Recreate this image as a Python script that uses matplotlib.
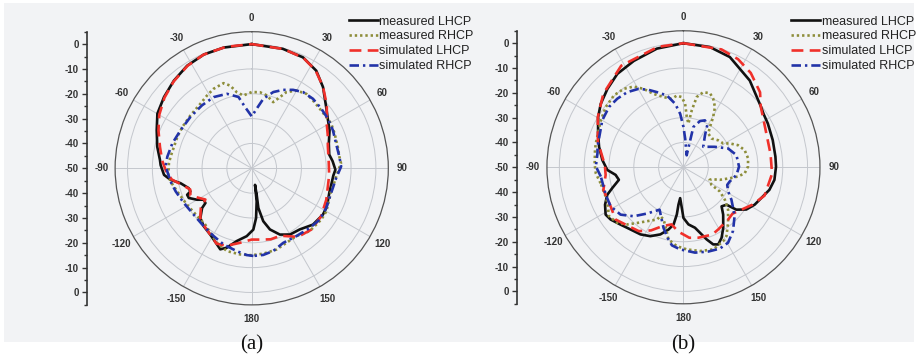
import numpy as np
import matplotlib
matplotlib.use("Agg")
import matplotlib.pyplot as plt
from matplotlib.lines import Line2D
from matplotlib.patches import Rectangle

plt.rcParams['font.family'] = ['Liberation Sans', 'DejaVu Sans']

# ---- traced data: angle (deg, clockwise from top) and normalized gain (dB), in drawing order ----
# panel (a)
a_mlhcp_ang = [0, 14.6, 24.8, 33.5, 41.3, 50.6, 57.8, 63.9, 72.2, 80, 85, 91, 95, 101.8, 106.6,
               113.5, 118, 123.1, 132.6, 141.9, 150, 157, 163.4, 167.7, 170.5, 169.4, 168.7, 171.5,
               175, 178.5, -175.8, -168.4, -162.6, -158.8, -155.5, -148, -140.4, -134.1, -128.7,
               -126.9, -123.2, -119.9, -115.3, -112.3, -110.7, -107.5, -101.8, -98.1, -94.3, -88,
               -84.8, -77.2, -68.2, -59.9, -50.9, -41.6, -32.2, -22.8, -13]
a_mlhcp_db = [0, -0.3, -0.8, -2.9, -6.5, -11.2, -13.7, -15.1, -17.4, -18.3, -17.3, -16.3, -17, -17.3,
              -17.3, -16.6, -16, -15.8, -16.5, -18.7, -19.2, -21, -24.3, -28.2, -33.8, -39.1, -43.2,
              -36.5, -29.9, -25.3, -22.6, -20.1, -16.5, -15, -16.3, -18.5, -19.7, -21.2, -24.4,
              -26.7, -26.9, -24.6, -22, -21.9, -23.6, -23.4, -20.7, -17, -14.6, -13.3, -12.9, -11,
              -8.8, -6.1, -4.5, -2.8, -1.2, -0.3, -0.1]

a_mrhcp_ang = [180, -172.3, -163.3, -155, -147.3, -140.5, -133.2, -119.4, -107.3, -99.3, -94.5,
               -86.6, -81.9, -67.1, -59.2, -49.1, -38.5, -31.5, -25.6, -18.3, -14.6, -11.1, -6.5,
               0, 6.2, 11.6, 18, 21.6, 24.5, 29.9, 36.3, 42.1, 50.2, 55.4, 60.6, 67.2, 76, 82.5,
               86.8, 92.2, 99.1, 106.3, 120, 126.4, 137.4, 146.6, 155, 163, 172.3]
a_mrhcp_db = [-15, -15, -15.2, -16.9, -19.1, -20.6, -20.8, -20.1, -18.6, -16.9, -16.3, -16.6, -17,
              -17.5, -17.5, -17.4, -16.8, -15.6, -14.5, -13.9, -15.6, -18.8, -20.5, -19.3, -19.2,
              -20, -22, -19.2, -16.3, -13.9, -12.8, -13.2, -13.6, -13.6, -13.3, -13.8, -14.3,
              -14.4, -14, -15.3, -16.2, -16.7, -15.3, -15.2, -15.6, -17.3, -16.9, -15.8, -15.3]

a_slhcp_ang = [0, 15, 25, 33, 41, 50, 59, 66, 74, 86, 95, 103, 113, 125, 136, 146, 157, 165, 172,
               180, -171, -162, -155, -148, -140, -134, -128, -124, -119, -114, -109, -104, -98,
               -92, -85, -77, -68, -60, -51, -42, -32, -23, -12]
a_slhcp_db = [0, -0.3, -0.9, -2.9, -6.3, -10.5, -14.8, -16.5, -18.1, -18.9, -18.7, -18.5, -17.4,
              -16, -15.6, -16.7, -20.5, -20.4, -21, -21.3, -19.6, -17.2, -16.5, -18.5, -20, -21.2,
              -24, -27.5, -25.5, -23, -23.8, -21.5, -17.5, -15.5, -13.8, -12.1, -9.5, -7, -4.8,
              -3, -1.3, -0.3, 0]

a_srhcp_ang = [178.9, -176.7, -169.8, -159.7, -150.7, -140.4, -128.7, -117.1, -106.9, -99.3,
               -92.2, -88.9, -82.2, -72.6, -61.9, -50, -38.3, -28.1, -18.4, -10.5, -6.2, 0, 4.8,
               9.5, 15.8, 21.8, 27.8, 34, 41.4, 49.4, 56.9, 64.9, 73.6, 82.5, 88.9, 96.7, 103.8,
               111, 118, 127.1, 135.8, 146.6, 157.1, 165.4, 172.4]
a_srhcp_db = [-14.7, -15, -16.1, -17.3, -18.7, -19.7, -20.1, -19.3, -18, -16.9, -16, -15.3, -15.7,
              -16.5, -17.5, -17.8, -17.7, -17.5, -18.4, -20.8, -25.2, -29.1, -25.9, -21.6, -18.1,
              -16, -14.3, -13, -12.7, -13.1, -13.4, -13.9, -14.6, -14.4, -14, -15.8, -16.4, -16.5,
              -16, -15.7, -16.5, -17.3, -17.4, -15.6, -14.8]

# panel (b)
b_mlhcp_ang = [0, 12.4, 22.8, 37.4, 52.2, 56.2, 62.6, 73.1, 83.4, 89.6, 97.9, 104.7, 110.1, 117.7,
               123.9, 128.7, 131, 135.7, 140, 146.7, 151.6, 155.7, 158.9, 162.2, 169.2, 175, 180,
               -177.7, -173.9, -172.4, -172, -170.2, -166.5, -161, -154.3, -147.4, -139.6, -132.3,
               -125.7, -121.3, -115.5, -109.8, -106.3, -101, -96.4, -92, -84.9, -76.3, -68.4,
               -59.5, -52.5, -44.1, -35.3, -25, -12.6]
b_mlhcp_db = [0, -0.4, -1.8, -6, -10.4, -11.2, -11.7, -12.4, -12.7, -12.7, -13, -14.2, -15.9,
              -17.6, -19.5, -22.7, -27, -28, -25.1, -20.8, -17.7, -15.9, -16.7, -19.5, -25.2,
              -26.9, -29.6, -33.6, -37.5, -34.8, -30.8, -26.6, -24.2, -21.4, -19.2, -17.9, -17.1,
              -15.7, -13.9, -13.3, -15, -17.4, -20.1, -23.5, -22.5, -19.3, -17.2, -15, -13, -10.1,
              -8, -6, -3.9, -2.7, -1]

b_mrhcp_ang = [-100.9, -93.9, -88, -79, -74.8, -60.4, -52.2, -44, -37.2, -31.6, -26.9, -22.1,
               -15.8, -9.6, -5.3, -1.4, 1.5, 3.8, 6.5, 8.3, 10.7, 14.8, 19.7, 23.5, 27.6, 30.6,
               33.3, 36.3, 44.3, 52, 59, 62.8, 67.9, 74.3, 82.1, 89.4, 95.6, 99.6, 103.3, 109, 113,
               115.7, 122, 123.6, 128.1, 133.5, 141.2, 148, 151.7, 160, 168.8, 177.7, -175.2,
               -168.3, -164.5, -159.2, -154.7, -153.1, -146, -140.2, -135.5, -130, -123.3, -115.2,
               -110.5]
b_mrhcp_db = [-16, -14.6, -14.2, -13.7, -13.4, -11.7, -10.4, -9.7, -10.3, -11.8, -14.6, -18.1,
              -20.6, -22, -21, -21.7, -24.4, -29.7, -32.3, -26.8, -21.2, -18.7, -18.3, -19.9,
              -22.6, -26.5, -30.5, -33.1, -33.8, -32.3, -31.3, -29, -26.3, -24.4, -23.7, -24,
              -25.2, -27.7, -30.8, -34.5, -37.7, -38.3, -36.7, -32.4, -28.8, -25.2, -21.3, -17.3,
              -16.2, -14.8, -15.6, -16.9, -18.1, -20.3, -24, -27.5, -28.2, -26.4, -23.8, -20.8,
              -17.7, -15.2, -14.1, -16.1, -16.5]

b_slhcp_ang = [0, 17.9, 26.8, 35.5, 45.6, 51.6, 65.3, 81.3, 94.2, 109.3, 118.5, 133.4, 139.5,
               150.8, 156.9, 168, 175.2, -175.4, -168.2, -160, -152.8, -145, -139.7, -127.6,
               -118.2, -105.7, -95.6, -88.3, -73.4, -59.6, -47.5, -31.5, -12]
b_slhcp_db = [0, -0.1, -1.2, -3.3, -6.8, -10.3, -13.6, -14.5, -14.2, -15.4, -18.4, -22.8, -22.3,
              -21.3, -20.5, -21, -21.5, -24, -26.5, -24.7, -21.4, -18.6, -18, -15.5, -16.7, -16.5,
              -18.5, -18.3, -14, -10, -6.2, -2, -0.4]

b_srhcp_ang = [-96.4, -89.4, -80.6, -76.6, -59.9, -51, -44, -36.8, -29.7, -24.2, -19.4, -13, -7.4,
               -3.5, 0, 3.5, 15, 13.8, 19.7, 24.6, 29.5, 33.8, 44, 56.9, 67.1, 77, 89.3, 98.2, 107,
               111.9, 118.4, 124, 129.4, 133.7, 142.1, 149.4, 155.9, 163.6, 172.3, -177.7, -171.6,
               -167.3, -161.8, -150.6, -141.8, -134.6, -127, -118.2, -109.5]
b_srhcp_db = [-16.5, -14.7, -14.9, -14.4, -12.2, -11.4, -11.6, -12.2, -13.6, -15.8, -17.9, -20.3,
              -24.2, -28.4, -33.7, -38.5, -45, -33.3, -30.2, -29.2, -30.5, -34.4, -38.5, -34.9,
              -30.5, -28.1, -27.6, -28.4, -30.5, -31, -29.5, -26.7, -24.1, -21.5, -17.5, -14.7,
              -14.1, -14.6, -15.3, -16.9, -18.2, -20.9, -24.3, -30.4, -26.3, -21.9, -18.3, -16.7,
              -16.8]

series_labels = ['measured LHCP', 'measured RHCP', 'simulated LHCP', 'simulated RHCP']
theta_ticks = [0, 30, 60, 90, 120, 150, 180, 210, 240, 270, 300, 330]
theta_labels = ['0', '30', '60', '90', '120', '150', '180', '-150', '-120', '-90', '-60', '-30']
ring_levels = [-40, -30, -20, -10, 0]
scale_labels = ['0', '-10', '-20', '-30', '-40', '-50', '-40', '-30', '-20', '-10', '0']
panel_tags = ['(a)', '(b)']

styles = [
    dict(color='#111111', lw=1.9, ls='-'),
    dict(color='#8d8d3a', lw=1.9, ls=(0, (0.9, 1.1))),
    dict(color='#f0302a', lw=1.9, ls=(0, (4.5, 2.4))),
    dict(color='#2233a8', lw=1.9, ls=(0, (3.6, 1.5, 0.9, 1.5))),
]

fig = plt.figure(figsize=(9.18, 3.63), dpi=100)
fig.patches.append(Rectangle((0.004, 0.058), 0.992, 0.933, transform=fig.transFigure,
                             facecolor='#f2f3f5', edgecolor='none', zorder=-10))


def draw_panel(rect, scale_x, data, legend_x, tag_x, tag):
    ax = fig.add_axes(rect, projection='polar')
    ax.set_facecolor('none')
    ax.set_theta_zero_location('N')
    ax.set_theta_direction(-1)
    for (ang, db), st in zip(data, styles):
        th = np.unwrap(np.deg2rad(np.r_[ang, ang[0]]))
        ax.plot(th, np.r_[db, db[0]], zorder=3, **st)
    ax.set_ylim(-50, 5)
    ax.set_yticks(ring_levels)
    ax.set_yticklabels([])
    ax.set_thetagrids(theta_ticks, theta_labels, fontsize=7, fontweight='bold', color='#333333')
    ax.set_xticks(np.deg2rad(np.arange(15, 360, 30)), minor=True)
    ax.tick_params(axis='x', which='major', length=0, pad=3)
    ax.tick_params(axis='x', which='minor', direction='in', length=4, width=0.8, color='#555555')
    ax.grid(True, color='#c4c7cd', lw=0.7)
    ax.spines['polar'].set_color('#555555')
    ax.spines['polar'].set_linewidth(0.9)

    # linear dB scale at the left, mirrored about the centre
    sc = fig.add_axes([scale_x, rect[1], 0.0001, rect[3]])
    sc.set_facecolor('none')
    sc.set_ylim(-55, 55)
    sc.set_yticks(np.linspace(50, -50, len(scale_labels)))
    sc.set_yticklabels(scale_labels, fontsize=7, fontweight='bold', color='#333333')
    sc.set_yticks(np.arange(-55, 56, 10), minor=True)
    sc.set_xticks([])
    for s in ['top', 'right', 'bottom']:
        sc.spines[s].set_visible(False)
    sc.spines['left'].set_linewidth(1.2)
    sc.spines['left'].set_color('#333333')
    sc.tick_params(axis='y', which='major', length=3.5, width=1, pad=2.5, color='#333333')
    sc.tick_params(axis='y', which='minor', length=2, width=1, color='#333333')

    handles = [Line2D([], [], **st) for st in styles]
    fig.legend(handles, series_labels, loc='upper left', bbox_to_anchor=(legend_x, 0.957),
               frameon=False, fontsize=9, handlelength=2.3, handletextpad=0.15,
               labelspacing=0.23, borderpad=0, borderaxespad=0, labelcolor='#222222')
    fig.text(tag_x, 0.05, tag, ha='center', va='center', fontsize=15,
             family='Liberation Serif', color='#111111')


draw_panel([0.1254, 0.1601, 0.2976, 0.7526], 0.0948,
           [(a_mlhcp_ang, a_mlhcp_db), (a_mrhcp_ang, a_mrhcp_db),
            (a_slhcp_ang, a_slhcp_db), (a_srhcp_ang, a_srhcp_db)],
           0.380, 0.274, panel_tags[0])
draw_panel([0.5958, 0.1631, 0.2974, 0.7521], 0.5635,
           [(b_mlhcp_ang, b_mlhcp_db), (b_mrhcp_ang, b_mrhcp_db),
            (b_slhcp_ang, b_slhcp_db), (b_srhcp_ang, b_srhcp_db)],
           0.8617, 0.744, panel_tags[1])

fig.savefig('out.png', dpi=100)
